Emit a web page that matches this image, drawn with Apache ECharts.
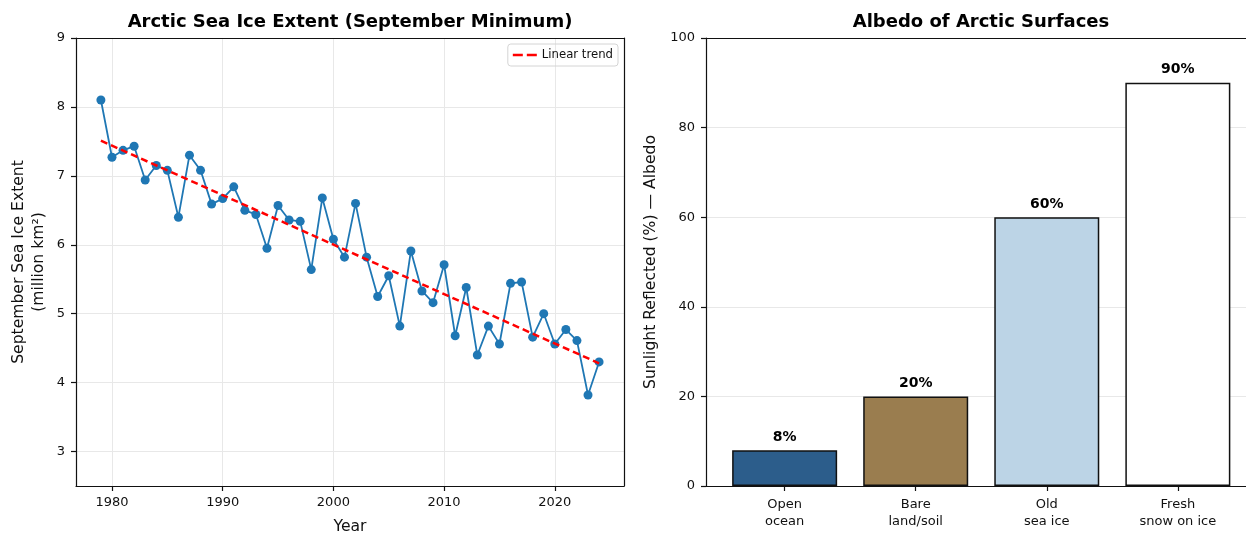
<!DOCTYPE html>
<html>
<head>
<meta charset="utf-8">
<script src="https://cdn.jsdelivr.net/npm/echarts@6/dist/echarts.min.js"></script>
<style>html,body{margin:0;padding:0;background:#fff}#c{width:1246px;height:533px}</style>
</head>
<body>
<div id="c"></div>
<script>
// ---- Data ----
const years = [1979,1980,1981,1982,1983,1984,1985,1986,1987,1988,1989,1990,1991,1992,1993,1994,1995,1996,1997,1998,1999,2000,2001,2002,2003,2004,2005,2006,2007,2008,2009,2010,2011,2012,2013,2014,2015,2016,2017,2018,2019,2020,2021,2022,2023,2024];
const extent = [8.10,7.27,7.37,7.43,6.94,7.15,7.08,6.40,7.30,7.08,6.59,6.67,6.84,6.50,6.44,5.95,6.57,6.36,6.34,5.64,6.68,6.08,5.82,6.60,5.82,5.25,5.55,4.82,5.91,5.33,5.16,5.71,4.68,5.38,4.40,4.82,4.56,5.44,5.46,4.66,5.00,4.56,4.77,4.61,3.82,4.30];
const trendYears = [1979, 2024];
const trendValues = [7.51, 4.28];
const yearTicks = [1980,1990,2000,2010,2020];
const extentTicks = [3,4,5,6,7,8,9];

const surfaces = ['Open\nocean','Bare\nland/soil','Old\nsea ice','Fresh\nsnow on ice'];
const albedo = [8,20,60,90];
const surfaceColors = ['#2c5d8b','#9a7d4f','#bcd4e6','#ffffff'];
const albedoTicks = [0,20,40,60,80,100];

// ---- Chart ----
const FONT = 'DejaVu Sans';
const chart = echarts.init(document.getElementById('c'), null, {renderer:'canvas'});
const gridColor = '#e8e8e8';
const spine = {show:true, onZero:false, lineStyle:{color:'#111', width:1.2}};
const tick = {show:true, length:5, lineStyle:{color:'#111', width:1.2}};
const lbl = {color:'#111', fontFamily:FONT, fontSize:13};
const nameStyle = {fontFamily:FONT, fontSize:15.6, color:'#111'};

const option = {
  animation:false,
  textStyle:{fontFamily:FONT},
  title:[
    {text:'Arctic Sea Ice Extent (September Minimum)', left:345, top:8, textAlign:'center',
     textStyle:{fontFamily:FONT, fontWeight:'bold', fontSize:18, color:'#000'}},
    {text:'Albedo of Arctic Surfaces', left:976, top:8, textAlign:'center',
     textStyle:{fontFamily:FONT, fontWeight:'bold', fontSize:18, color:'#000'}}
  ],
  legend:{
    data:[{name:'Linear trend', icon:'path://M0,0h10v2.5h-10z M14,0h10v2.5h-10z'}],
    right:628, top:44, orient:'vertical',
    itemWidth:24, itemHeight:2.5, itemGap:4,
    padding:[5,5,5,5],
    borderColor:'#d4d4d4', borderWidth:1, borderRadius:3,
    textStyle:{fontFamily:FONT, fontSize:11.7, color:'#111'}
  },
  grid:[
    {left:76, top:38, width:548, height:448, containLabel:false, outerBoundsMode:'none'},
    {left:706, top:38, width:540, height:448, containLabel:false, outerBoundsMode:'none'}
  ],
  xAxis:[
    {type:'value', gridIndex:0, min:1976.75, max:2026.25,
     axisLine:spine, axisTick:Object.assign({customValues:yearTicks}, tick),
     axisLabel:Object.assign({customValues:yearTicks, margin:10, formatter:v=>String(v)}, lbl),
     splitLine:{show:true, lineStyle:{color:gridColor, width:1}},
     name:'Year', nameLocation:'middle', nameGap:33, nameTextStyle:nameStyle},
    {type:'value', gridIndex:0, position:'top', min:1976.75, max:2026.25,
     axisLine:spine, axisTick:{show:false}, axisLabel:{show:false}, splitLine:{show:false}},
    {type:'value', gridIndex:1, min:-0.6, max:3.52,
     axisLine:spine, axisTick:Object.assign({customValues:[0,1,2,3]}, tick),
     axisLabel:Object.assign({customValues:[0,1,2,3], margin:10, lineHeight:17,
       formatter:v=>surfaces[Math.round(v)]}, lbl),
     splitLine:{show:false}},
    {type:'value', gridIndex:1, position:'top', min:-0.6, max:3.52,
     axisLine:spine, axisTick:{show:false}, axisLabel:{show:false}, splitLine:{show:false}}
  ],
  yAxis:[
    {type:'value', gridIndex:0, min:2.5, max:9,
     axisLine:spine, axisTick:Object.assign({customValues:extentTicks}, tick),
     axisLabel:Object.assign({customValues:extentTicks, margin:11}, lbl),
     splitLine:{show:true, lineStyle:{color:gridColor, width:1}},
     name:'September Sea Ice Extent\n(million km²)', nameLocation:'middle', nameGap:27,
     nameTextStyle:Object.assign({lineHeight:20}, nameStyle)},
    {type:'value', gridIndex:0, position:'right', min:2.5, max:9,
     axisLine:spine, axisTick:{show:false}, axisLabel:{show:false}, splitLine:{show:false}},
    {type:'value', gridIndex:1, min:0, max:100,
     axisLine:spine, axisTick:Object.assign({customValues:albedoTicks}, tick),
     axisLabel:Object.assign({customValues:albedoTicks, margin:11}, lbl),
     splitLine:{show:true, lineStyle:{color:gridColor, width:1}},
     name:'Sunlight Reflected (%) — Albedo', nameLocation:'middle', nameGap:47,
     nameTextStyle:nameStyle}
  ],
  series:[
    {name:'Extent', type:'line', xAxisIndex:0, yAxisIndex:0,
     data: years.map((y,i)=>[y, extent[i]]),
     symbol:'circle', symbolSize:9, showSymbol:true,
     itemStyle:{color:'#1f77b4'}, lineStyle:{color:'#1f77b4', width:1.8}, z:2},
    {name:'Linear trend', type:'line', xAxisIndex:0, yAxisIndex:0,
     data: trendYears.map((y,i)=>[y, trendValues[i]]),
     symbol:'none', itemStyle:{color:'#ff0000'},
     lineStyle:{color:'#ff0000', width:2.5, type:[7,4]}, z:3},
    {name:'Albedo', type:'bar', xAxisIndex:2, yAxisIndex:2, barWidth:105,
     data: albedo.map((v,i)=>({value:[i, v], itemStyle:{color:surfaceColors[i], borderColor:'#111', borderWidth:1.5}})),
     label:{show:true, position:'top', distance:6, formatter:p=>p.value[1]+'%',
       fontFamily:FONT, fontWeight:'bold', fontSize:14, color:'#000'}}
  ]
};
chart.setOption(option);
</script>
</body>
</html>
